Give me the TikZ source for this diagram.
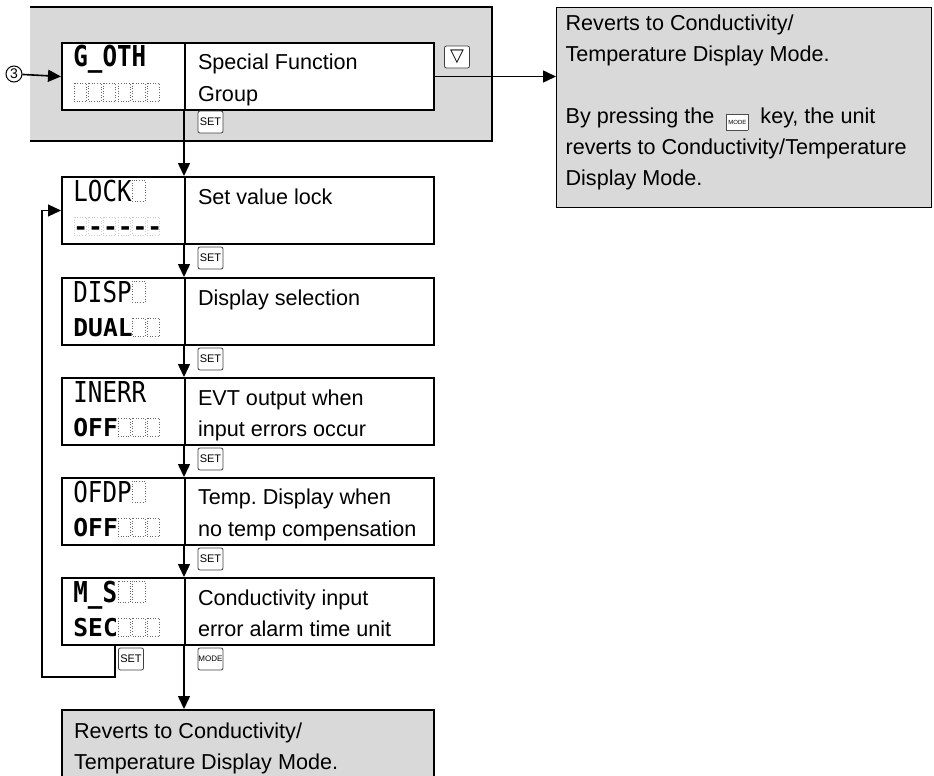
\documentclass[tikz,border=0pt]{standalone}
\usepackage{fontspec}
\setmainfont{Liberation Sans}
\newfontfamily\lcdfont[FakeStretch=0.84,Ligatures=TeXOff]{DejaVu Sans Mono}
\newfontfamily\lcdfontb[Ligatures=TeXOff]{DejaVu Sans Mono}
\newfontfamily\symfont{DejaVu Sans}
\usetikzlibrary{arrows.meta,calc,positioning}
\frenchspacing

\newcommand{\desctext}[1]{\parbox[c][33.5pt][t]{124.5pt}{\fontsize{10.8}{15.5}\selectfont\raggedright\leftskip=6.5pt\rule{0pt}{13.5pt}#1}}
\newcommand{\modekey}{\raisebox{-0.5pt}{\setlength{\fboxsep}{0.6pt}\setlength{\fboxrule}{0.4pt}\fcolorbox{black!70}{white}{\rule[-2pt]{0pt}{6.5pt}\fontsize{3}{3}\selectfont MODE}}}

\tikzset{
  panelgray/.style={fill=black!15},
  lcdhalf/.style={draw, line width=1pt, fill=white, minimum width=61.5pt, minimum height=33.5pt, inner sep=0pt, anchor=north west},
  deschalf/.style={draw, line width=1pt, fill=white, inner sep=0pt, anchor=north west},
  keybox/.style={draw=black!75, line width=0.4pt, fill=white, rounded corners=1pt, minimum width=12.5pt, minimum height=11pt, inner sep=0pt, font=\fontsize{5.5}{6}\selectfont},
  lcdtop/.style={anchor=base west, inner sep=0pt, font=\fontsize{14.4}{14.4}\lcdfont},
  lcdbot/.style={anchor=base west, inner sep=0pt, font=\fontsize{12.3}{12.3}\lcdfontb\bfseries},
  emptycell/.style={draw=black!60, densely dotted, line width=0.3pt},
  flow/.style={-{Triangle[length=6.5pt,width=6pt]}, line width=0.8pt},
  infobox/.style={draw, fill=black!15, inner sep=0pt, anchor=north west},
}

\begin{document}
\begin{tikzpicture}[x=0.5pt, y=-0.5pt]
  \useasboundingbox (0,0) rectangle (934,776);
  % group panel
  \fill[panelgray] (30,7) rectangle (492,141);
  \draw[line width=0.6pt] (30,7) -- (492,7) -- (492,141) -- (30,141);

  % parameter boxes
  \node[lcdhalf] (gothL) at (61,42) {};
  \node[deschalf] (gothR) at (184,42) {\desctext{Special Function\\Group}};
  \node[lcdhalf] (lockL) at (61,176) {};
  \node[deschalf] (lockR) at (184,176) {\desctext{Set value lock}};
  \node[lcdhalf] (dispL) at (61,277) {};
  \node[deschalf] (dispR) at (184,277) {\desctext{Display selection}};
  \node[lcdhalf] (inerrL) at (61,377) {};
  \node[deschalf] (inerrR) at (184,377) {\desctext{EVT output when\\input errors occur}};
  \node[lcdhalf] (ofdpL) at (61,477) {};
  \node[deschalf] (ofdpR) at (184,477) {\desctext{Temp. Display when\\no temp compensation}};
  \node[lcdhalf] (msL) at (61,577) {};
  \node[deschalf] (msR) at (184,577) {\desctext{Conductivity input\\error alarm time unit}};

  % display characters
  \node[lcdtop] (gothA) at (73,67) {\bfseries G\_OTH};
  \foreach \k in {0,...,5} \draw[emptycell] (74+14.6*\k,83) rectangle ++(12.5,18);
  \node[lcdtop] (lockA) at (73,201) {LOCK};
  \draw[emptycell] (74+14.6*4,180) rectangle ++(12.5,21);
  \foreach \k in {0,...,5} \draw[emptycell, draw=black!20] (74+14.6*\k,217) rectangle ++(12.5,18);
  \node[lcdbot] (lockB) at (73,235) {------};
  \node[lcdtop] (dispA) at (73,302) {DISP};
  \draw[emptycell] (74+14.6*4,281) rectangle ++(12.5,21);
  \node[lcdbot] (dispB) at (73,336) {DUAL};
  \foreach \k in {4,5} \draw[emptycell] (74+14.6*\k,318) rectangle ++(12.5,18);
  \node[lcdtop] (inerrA) at (73,402) {INERR};
  \node[lcdbot] (inerrB) at (73,436) {OFF};
  \foreach \k in {3,4,5} \draw[emptycell] (74+14.6*\k,418) rectangle ++(12.5,18);
  \node[lcdtop] (ofdpA) at (73,502) {OFDP};
  \draw[emptycell] (74+14.6*4,481) rectangle ++(12.5,21);
  \node[lcdbot] (ofdpB) at (73,536) {OFF};
  \foreach \k in {3,4,5} \draw[emptycell] (74+14.6*\k,518) rectangle ++(12.5,18);
  \node[lcdtop] (msA) at (73,602) {\bfseries M\_S};
  \foreach \k in {3,4} \draw[emptycell] (74+14.6*\k,581) rectangle ++(12.5,21);
  \node[lcdbot] (msB) at (73,636) {SEC};
  \foreach \k in {3,4,5} \draw[emptycell] (74+14.6*\k,618) rectangle ++(12.5,18);

  % result boxes
  \node[infobox, line width=0.6pt] (revA) at (556,7) {\parbox[c][100pt][t]{187.5pt}{\fontsize{10.8}{15.5}\selectfont\raggedright\leftskip=4.5pt\rule{0pt}{11.5pt}Reverts to Conductivity/\\Temperature Display Mode.\\[15.5pt]By pressing the \ \modekey\ \ key, the unit\\reverts to Conductivity/Temperature\\Display Mode.}};
  \node[infobox, line width=1pt] (revB) at (61,709) {\parbox[c][45pt][t]{186pt}{\fontsize{10.8}{15.5}\selectfont\raggedright\leftskip=6pt\rule{0pt}{14pt}Reverts to Conductivity/\\Temperature Display Mode.}};

  % entry point
  \node[circle, draw, line width=0.5pt, minimum size=8pt, inner sep=0pt, font=\fontsize{7}{7}\selectfont] (in3) at (14,74) {3};

  % connectors
  \coordinate (loopS) at (115,644);
  \coordinate (loopC) at (42,677);
  \draw[flow] (in3) -- (gothL.west);
  \draw[flow] (gothR.east) -- (revA.west |- gothR.east);
  \draw[flow] (gothR.south west) -- (lockR.north west);
  \draw[flow] (lockR.south west) -- (dispR.north west);
  \draw[flow] (dispR.south west) -- (inerrR.north west);
  \draw[flow] (inerrR.south west) -- (ofdpR.north west);
  \draw[flow] (ofdpR.south west) -- (msR.north west);
  \draw[flow] (msR.south west) -- (msR.south west |- revB.north);
  \draw[flow, line width=0.6pt] (loopS) |- (loopC) |- (lockL.west);

  % keys
  \node[keybox, font=\fontsize{9}{9}\symfont] (downK) at (457,57) {▽};
  \node[keybox] (setA) at (210.5,122) {SET};
  \node[keybox] (setB) at (210.5,258) {SET};
  \node[keybox] (setC) at (210.5,359) {SET};
  \node[keybox] (setD) at (210.5,459) {SET};
  \node[keybox] (setE) at (210.5,559) {SET};
  \node[keybox] (setF) at (131,659) {SET};
  \node[keybox, font=\fontsize{4}{4}\selectfont] (modeA) at (210.5,659) {MODE};
\end{tikzpicture}
\end{document}
